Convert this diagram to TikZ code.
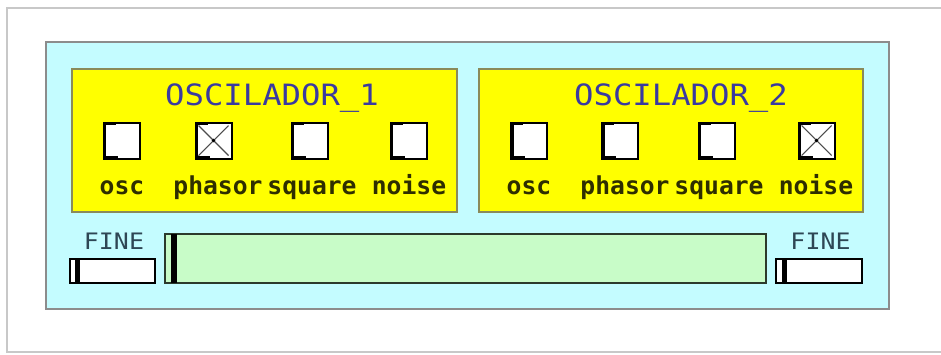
\documentclass[tikz,border=0pt]{standalone}
\usepackage{fontspec}
\newfontfamily\pdmono{DejaVu Sans Mono}
\definecolor{panelcyan}{HTML}{C4FCFF}
\definecolor{panelborder}{HTML}{8C8C8C}
\definecolor{oscyellow}{HTML}{FFFF00}
\definecolor{oscborder}{HTML}{8A8A5A}
\definecolor{titleblue}{HTML}{3A3AA0}
\definecolor{labelink}{HTML}{2E2E00}
\definecolor{fineink}{HTML}{2E4654}
\definecolor{slidergreen}{HTML}{C8FCC8}
\definecolor{sliderborder}{HTML}{2C3A2C}
\definecolor{framegray}{HTML}{C8C8C8}
\begin{document}
\begin{tikzpicture}[x=0.75pt,y=-0.75pt,
  panelstyle/.style={fill=panelcyan,draw=panelborder,line width=1.5pt},
  oscstyle/.style={fill=oscyellow,draw=oscborder,line width=1.5pt},
  titlestyle/.style={inner sep=0pt,anchor=base,text=titleblue,font=\pdmono\fontsize{22pt}{26pt}\selectfont},
  labelstyle/.style={inner sep=0pt,anchor=base,text=labelink,font=\pdmono\bfseries\fontsize{18.5pt}{22pt}\selectfont},
  finestyle/.style={inner sep=0pt,anchor=base,text=fineink,font=\pdmono\fontsize{17pt}{20pt}\selectfont},
  finebox/.style={fill=white,draw=black,line width=1.5pt},
  bigslider/.style={fill=slidergreen,draw=sliderborder,line width=1.5pt},
  pdtoggle/.pic={
    \draw[fill=white,draw=black,line width=1.5pt] (-18,-18) rectangle (18,18);
    \draw[black,line width=2.2pt] (-16.8,-18) -- (-16.8,18);
    \draw[black,line width=2.2pt] (-18,-16.8) -- (-6,-16.8);
    \draw[black,line width=2.2pt] (-18,16.8) -- (-4,16.8);
  },
  pdtogglex/.pic={
    \draw[fill=white,draw=black,line width=1.5pt] (-18,-18) rectangle (18,18);
    \draw[gray!60!black,line width=0.8pt] (-15,-15) -- (15,15) (-15,15) -- (15,-15);
    \draw[black,line width=2.2pt] (-16.8,-18) -- (-16.8,18);
    \draw[black,line width=2.2pt] (-18,-16.8) -- (-6,-16.8);
    \draw[black,line width=2.2pt] (-18,16.8) -- (-4,16.8);
    \fill[black] (0,0) circle (1.8);
  }]
\useasboundingbox (0,0) rectangle (941,354);
\fill[white] (0,0) rectangle (941,354);
% outer frame
\draw[framegray,line width=1.1pt] (941,8) -- (7,8) -- (7,352) -- (941,352);
% cyan panel
\draw[panelstyle] (46,42) rectangle (889,309);
% oscillator boxes
\draw[oscstyle] (72,69) rectangle (457,212);
\draw[oscstyle] (479,69) rectangle (863,212);
\node[titlestyle] (title1) at (272,105) {\scalebox{1.1}[1]{OSCILADOR\_1}};
\node[titlestyle] (title2) at (681,105) {\scalebox{1.1}[1]{OSCILADOR\_2}};
% toggles, oscillator 1
\pic (ta1) at (121.5,140.5) {pdtoggle};
\pic (tb1) at (213.5,140.5) {pdtogglex};
\pic (tc1) at (309.5,140.5) {pdtoggle};
\pic (td1) at (408.5,140.5) {pdtoggle};
\node[labelstyle] (la1) at (122,194) {osc};
\node[labelstyle] (lb1) at (218,194) {phasor};
\node[labelstyle] (lc1) at (312,194) {square};
\node[labelstyle] (ld1) at (409,194) {noise};
% toggles, oscillator 2
\pic (ta2) at (529,140.5) {pdtoggle};
\pic (tb2) at (620,140.5) {pdtoggle};
\pic (tc2) at (716.5,140.5) {pdtoggle};
\pic (td2) at (816.5,140.5) {pdtogglex};
\node[labelstyle] (la2) at (529,194) {osc};
\node[labelstyle] (lb2) at (625,194) {phasor};
\node[labelstyle] (lc2) at (719,194) {square};
\node[labelstyle] (ld2) at (816,194) {noise};
% fine sliders
\node[finestyle] (fine1) at (114,249) {\scalebox{1.1}[1]{FINE}};
\draw[finebox] (70,259) rectangle (155,283);
\fill[black] (75,259) rectangle (80,283);
\node[finestyle] (fine2) at (820.5,249) {\scalebox{1.1}[1]{FINE}};
\draw[finebox] (776,259) rectangle (862,283);
\fill[black] (782,259) rectangle (787,283);
% big slider
\draw[bigslider] (165,234) rectangle (766,283);
\fill[black] (170.5,234) rectangle (177,283);
\end{tikzpicture}
\end{document}
